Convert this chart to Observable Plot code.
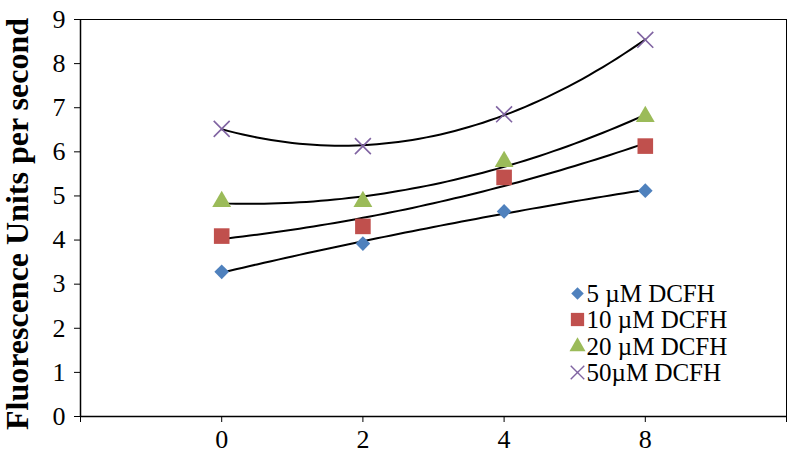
<!DOCTYPE html>
<html><head><meta charset="utf-8">
<script src="https://cdn.jsdelivr.net/npm/d3@7"></script>
<script src="https://cdn.jsdelivr.net/npm/@observablehq/plot@0.6"></script>
<style>body{margin:0;background:#fff}svg{display:block}</style>
</head><body><div id="chart"></div>
<script>
const categories = ["0", "2", "4", "8"];
const yTicks = [0,1,2,3,4,5,6,7,8,9];
const seriesNames = ["5 \u00b5M DCFH", "10 \u00b5M DCFH", "20 \u00b5M DCFH", "50\u00b5M DCFH"];
const s5 = [3.28, 3.92, 4.65, 5.12];
const s10 = [4.09, 4.31, 5.42, 6.13];
const s20 = [4.87, 4.87, 5.78, 6.80];
const s50 = [6.52, 6.13, 6.85, 8.54];
const colors = ["#4f81bd", "#c0504d", "#9bbb59", "#8064a2"];
const symbols = ["diamond2", "square", "triangle", "times"];
const radii = [6.6, 8.8, 7.0, 7.3];

const allSeries = [s5, s10, s20, s50];
const points = [];
allSeries.forEach((vals, si) => vals.forEach((v, i) => points.push({s: si, pos: i + 1, v})));

// polynomial (order 2) least-squares trendline, as in the original chart
function quadFit(xs, ys) {
  let S = [[0,0,0],[0,0,0],[0,0,0]], T = [0,0,0];
  xs.forEach((x, k) => {
    const p = [1, x, x*x];
    for (let i=0;i<3;i++){ T[i] += p[i]*ys[k]; for (let j=0;j<3;j++) S[i][j] += p[i]*p[j]; }
  });
  const A = S.map((r,i)=>[...r, T[i]]);
  for (let i=0;i<3;i++){
    for (let k=i+1;k<3;k++){ const f=A[k][i]/A[i][i]; for(let j=i;j<4;j++) A[k][j]-=f*A[i][j]; }
  }
  const c=[0,0,0];
  for (let i=2;i>=0;i--){ let s=A[i][3]; for(let j=i+1;j<3;j++) s-=A[i][j]*c[j]; c[i]=s/A[i][i]; }
  return x => c[0] + c[1]*x + c[2]*x*x;
}
const trend = [];
allSeries.forEach((vals, si) => {
  const f = quadFit([1,2,3,4], vals);
  for (let t = 1; t <= 4.0001; t += 0.05) trend.push({s: si, pos: t, v: f(t)});
});

const labelMap = new Map(categories.map((c, i) => [i + 1, c]));
const marks = [
  Plot.frame({stroke: "#000", strokeWidth: 1}),
  Plot.axisY({ticks: yTicks, tickSize: 6, tickPadding: 9, fontSize: 26, label: null}),
  Plot.axisX({ticks: [0,1,2,3,4,5], tickSize: 6, tickPadding: 7, fontSize: 26, label: null,
    tickFormat: d => labelMap.get(d) ?? ""}),
  Plot.ruleY([0], {stroke: "#000", strokeWidth: 1.5}),
  Plot.ruleX([0], {stroke: "#000", strokeWidth: 1.5}),
  Plot.line(trend, {x: "pos", y: "v", z: "s", stroke: "#000", strokeWidth: 2, curve: "linear"}),
  Plot.text(["Fluorescence Units per second"], {frameAnchor: "left", rotate: -90, dx: -63, dy: 6,
    textAnchor: "middle", lineAnchor: "middle", fontSize: 32, fontWeight: "bold", fill: "#000"})
];
allSeries.forEach((vals, si) => {
  const pts = points.filter(d => d.s === si);
  const isStroke = symbols[si] === "times";
  marks.push(Plot.dot(pts, {x: "pos", y: "v", symbol: () => symbols[si], r: radii[si],
    fill: isStroke ? "none" : colors[si], stroke: isStroke ? colors[si] : "none", strokeWidth: 1.6}));
  const dy = [274, 300, 327, 353][si];
  marks.push(Plot.dot([seriesNames[si]], {frameAnchor: "top-left", dx: 497, dy, symbol: () => symbols[si],
    r: radii[si] * 0.85, fill: isStroke ? "none" : colors[si], stroke: isStroke ? colors[si] : "none", strokeWidth: 1.4}));
  marks.push(Plot.text([seriesNames[si]], {frameAnchor: "top-left", dx: 506, dy, text: d => d,
    textAnchor: "start", lineAnchor: "middle", fontSize: 25, fill: "#000"}));
});

const chart = Plot.plot({
  width: 791, height: 458,
  marginLeft: 80, marginRight: 5, marginTop: 19, marginBottom: 42,
  style: {fontFamily: "'Liberation Serif', 'Times New Roman', serif", color: "#000", background: "#fff"},
  x: {type: "linear", domain: [0, 5]},
  y: {domain: [0, 9]},
  symbol: {type: "identity"},
  marks
});
document.getElementById("chart").appendChild(chart);
</script></body></html>
